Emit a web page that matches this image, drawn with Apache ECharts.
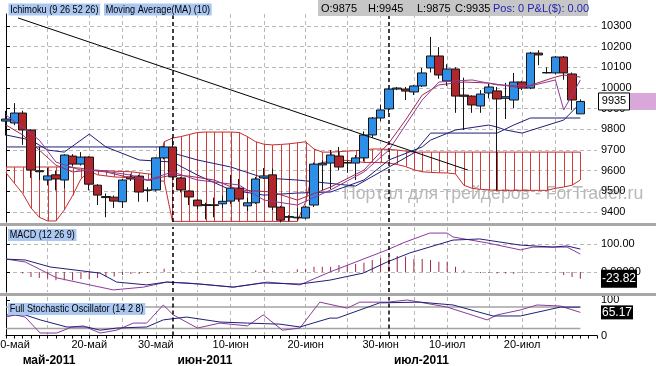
<!DOCTYPE html>
<html><head><meta charset="utf-8">
<script src="https://cdn.jsdelivr.net/npm/echarts@6/dist/echarts.min.js"></script>
<style>html,body{margin:0;padding:0;background:#fff}#c{width:656px;height:366px}</style>
</head><body><div id="c"></div>
<script>
const FONT = 'Arial, "Liberation Sans", sans-serif';

// ---- categories (daily bars) ----
const dates = ['09.05','10.05','11.05','12.05','13.05','15.05','16.05','17.05','18.05','19.05','20.05','22.05','23.05','24.05','25.05','26.05','27.05','29.05','30.05','31.05',
'01.06','02.06','03.06','05.06','06.06','07.06','08.06','09.06','10.06','12.06','13.06','14.06','15.06','16.06','17.06','19.06','20.06','21.06','22.06','23.06','24.06','26.06','27.06','28.06','29.06','30.06',
'01.07','03.07','04.07','05.07','06.07','07.07','08.07','10.07','11.07','12.07','13.07','14.07','15.07','17.07','18.07','19.07','20.07','21.07','22.07','24.07','25.07','26.07','27.07','28.07'];
const padCats = ['', ''];
const dayTicks = [[0,'10-май'],[10,'20-май'],[18,'30-май'],[27,'10-июн'],[36,'20-июн'],[45,'30-июн'],[53,'10-июл'],[62,'20-июл']];
const monthTicks = [[2,'май-2011'],[20,'июн-2011'],[46,'июл-2011']];
const gridDays = [5,10,14,18,23,27,31,36,41,45,49,53,58,62,66];
const monthStarts = [20,46];
const priceTicks = [9400,9500,9600,9700,9800,9900,10000,10100,10200,10300];
const macdTicks = [0,100];
const stochTicks = [0,100];
const stochLevels = [80,20];

// ---- OHLC ----
const opens = [9840,9831,9879,9797,9600,9555,9580,9555,9671,9632, 9666,9530,9475,9472,9450,9570,9574,9505,9507,9662, 9715,9565,9502,9458,9432,9435,9440,9453,9516,9430, 9445,9565,9580,9424,9375,9372,9371,9434,9628,9637, 9671,9640,9637,9662,9773,9855,9899,9995,9995,9981, 10010,10097,10155,10034,10092,9966,9961,9913,9976,9986, 9950,9942,10029,10000,10169,10073,10073,10150,10068,9875];
const highs = [9890,9927,9890,9800,9715,9615,9600,9680,9680,9690, 9670,9535,9490,9480,9560,9585,9580,9520,9665,9720, 9760,9570,9505,9465,9445,9470,9480,9580,9560,9470, 9570,9613,9610,9430,9385,9420,9430,9640,9650,9700, 9715,9650,9676,9790,9860,9920,10000,10005,10005,10015, 10097,10247,10198,10115,10100,10050,9965,9990,10020,10005, 10025,10073,10035,10175,10183,10100,10155,10155,10075,9945];
const lows = [9770,9820,9725,9565,9555,9530,9505,9515,9620,9625, 9505,9434,9375,9420,9420,9550,9450,9450,9500,9655, 9565,9495,9434,9415,9365,9375,9420,9440,9450,9405, 9440,9560,9410,9350,9355,9360,9365,9425,9505,9510, 9603,9590,9555,9645,9760,9840,9880,9990,9942,9966, 10005,10075,10045,10010,9880,9797,9880,9880,9950,9505, 9850,9903,9990,9995,10110,10070,10065,10040,9893,9875];
const closes = [9850,9879,9797,9603,9595,9575,9560,9676,9632,9666, 9535,9482,9470,9453,9555,9560,9497,9507,9662,9715, 9570,9507,9473,9430,9436,9432,9452,9516,9463,9445, 9560,9575,9424,9361,9378,9375,9424,9632,9636,9676, 9618,9637,9662,9773,9855,9894,9995,10000,9985,10010, 10073,10155,10063,10092,9961,9960,9918,9971,10005,9947, 9958,10029,10000,10169,10160,10075,10150,10073,9942,9935];

// ---- Ichimoku cloud (per bar) ----
const spanA = [9618,9618,9618,9618,9618,9618,9618,9618,9615,9612, 9605,9600,9600,9598,9596,9595,9590,9585,9580,9740, 9758,9765,9775,9785,9787,9787,9787,9787,9785,9765, 9740,9728,9725,9727,9730,9735,9740,9705,9690,9690, 9692,9695,9697,9700,9705,9705,9703,9700,9695,9690, 9690,9690,9690,9690,9690,9690,9690,9690,9690,9690, 9690,9690,9690,9690,9690,9690,9690,9690,9690,9690];
const spanB = [9590,9540,9490,9420,9375,9357,9357,9410,9480,9560, 9600,9580,9575,9570,9568,9565,9560,9555,9550,9550, 9355,9355,9355,9355,9355,9355,9355,9355,9355,9355, 9355,9355,9355,9355,9355,9355,9450,9620,9640,9645, 9650,9650,9645,9640,9640,9640,9637,9630,9620,9605, 9595,9592,9590,9589,9585,9530,9515,9510,9507,9505, 9505,9505,9505,9505,9505,9505,9515,9521,9530,9555];

// ---- Ichimoku / MA lines: [bar position, price] ----
const kijun = [[0,9715],[19,9715],[20,9686],[23,9652],[27,9618],[31,9565],[35,9555],[42,9526],[49,9686],[51,9782],[59,9782],[61,9821],[63,9855],[69,9855]];
const tenkan = [[0,9773],[3,9748],[5,9700],[7,9690],[10,9777],[12,9715],[16,9652],[20,9642],[23,9579],[27,9507],[31,9482],[35,9492],[39,9497],[43,9555],[46,9652],[50,9715],[51,9748],[54,9797],[58,9821],[59,9811],[60,9797],[62,9782],[67,9845],[69,9927]];
const maLine = [[0,9821],[2,9773],[4,9700],[6,9627],[8,9594],[10,9603],[12,9594],[15,9565],[17,9555],[20,9579],[22,9574],[25,9555],[28,9507],[32,9497],[35,9458],[39,9521],[43,9603],[46,9734],[48,9845],[50,9966],[52,10015],[55,10029],[58,10024],[62,10000],[66,10053],[67,10063],[69,10053]];
const tenkan2 = [[0,9869],[2,9811],[4,9748],[6,9642],[9,9603],[11,9603],[15,9579],[17,9555],[20,9594],[23,9555],[28,9531],[31,9458],[35,9434],[39,9507],[43,9594],[46,9700],[48,9821],[50,9942],[52,10029],[56,10039],[59,10015],[63,10010],[66,10039],[67,9894],[69,10039]];
const trendLine = [[1.44,10339],[55.5,9603]];

// ---- MACD ----
const macdLine = [[0,46],[2.3,36],[6.1,-21],[12.9,-64],[16.5,-54],[19.3,-36],[21.7,-39],[27.3,-54],[31.4,-36],[35.3,-46],[38.9,0],[41.7,32],[45.8,79],[47.7,104],[50.9,139],[53,139],[53.7,125],[57.8,104],[61.8,79],[63.3,89],[67.4,89],[69,64]];
const macdSignal = [[0,46],[2.3,43],[5.3,18],[11.3,-4],[13.3,-36],[16.9,-46],[19.3,-36],[23.3,-43],[27.3,-54],[30.9,-39],[35.3,-43],[38.9,-29],[42.9,-4],[45.8,36],[48.5,68],[53.7,114],[56.9,118],[61.8,96],[65.7,89],[67.4,93],[69,82]];
const macdHist = [0,0,-5,-18,-21,-23,-29,-29,-29,-25, -25,-21,-18,-16,-11,-7,-7,-4,0,12, 0,2,0,-2,0,0,0,0,2,0, 5,8,3,0,2,10,12,19,19,19, 25,25,29,33,43,50,54,57,55,46, 46,43,37,37,19,5,0,-4,-4,-5, -5,-6,-2,-2,-1,-1,-2,-11,-18,-23.82];

// ---- Stochastic ----
const stochK = [[0,52],[1.1,58],[2.3,52],[4.1,7],[6.1,7],[7.9,24],[9.3,27],[11.3,7],[13.3,15],[15.3,35],[16.9,35],[18.9,86],[20.1,58],[23,21],[25.7,35],[29,27],[30.9,58],[33.2,15],[35.3,21],[37.7,94],[41,77],[42.5,94],[45.8,94],[48.2,100],[49.7,94],[53,80],[57.8,44],[59,58],[61.8,72],[63.8,86],[66.6,83],[69,65.17]];
const stochD = [[0,58],[2.3,58],[4.1,44],[7.3,24],[9.7,24],[11.3,15],[13.3,21],[16.9,24],[18.9,44],[21.7,52],[25.7,38],[29,35],[32.9,32],[35.3,24],[38.9,49],[39.8,49],[44.9,92],[49.7,94],[53.7,86],[58.5,55],[61.8,55],[66.6,80],[69,80]];

// ---------------------------------------------------------------
const cats = dates.concat(padCats);
const lastBar = dates.length - 1;
const gridSet = new Set(gridDays);
const dayMap = new Map(dayTicks);
const monMap = new Map(monthTicks);
const candleData = opens.map((o, i) => [o, closes[i], lows[i], highs[i]]);
const hatchData = spanA.map((a, i) => [i, a, spanB[i]]);

const GRIDC = '#b9b9b9';
function catAxis(gi, extra) {
  return Object.assign({
    type: 'category', gridIndex: gi, data: cats, boundaryGap: false,
    axisLine: {show: false}, axisTick: {show: false}, axisLabel: {show: false},
    splitLine: {show: true, interval: (i) => gridSet.has(i), lineStyle: {color: GRIDC, type: [4, 3], width: 1}}
  }, extra || {});
}
function valAxis(gi) {
  return {type: 'value', gridIndex: gi, min: 0, max: cats.length - 1, show: false, splitLine: {show: false}};
}
const monthLineStyle = {color: '#000', type: [4, 3], width: 1.5};
function monthMarks() {
  return {silent: true, symbol: 'none', label: {show: false}, animation: false,
    data: monthStarts.map(m => ({xAxis: m, lineStyle: monthLineStyle}))};
}
function lineS(xi, yi, data, color, z, w) {
  return {type: 'line', xAxisIndex: xi, yAxisIndex: yi, data: data, showSymbol: false, symbol: 'none',
    lineStyle: {color: color, width: w || 1}, z: z || 4, silent: true};
}
const NAVY = '#1f1f78', MAROON = '#a3294f', PURPLE = '#8a3b98';

const chart = echarts.init(document.getElementById('c'), null, {renderer: 'canvas', width: 656, height: 366});
const dayLabelFmt = (v, i) => dayMap.has(i) ? (i === dayTicks[0][0] ? '{f|' : '{d|') + dayMap.get(i) + '}' : '';
const option = {
  animation: false,
  backgroundColor: '#ffffff',
  textStyle: {fontFamily: FONT},
  grid: [
    {left: 6, right: 59, top: 14, height: 208, outerBoundsMode: 'none', containLabel: false},
    {left: 6, right: 59, top: 227, height: 65, outerBoundsMode: 'none', containLabel: false},
    {left: 6, right: 59, top: 297, height: 38.5, outerBoundsMode: 'none', containLabel: false}
  ],
  xAxis: [
    catAxis(0), valAxis(0),
    catAxis(1), valAxis(1),
    catAxis(2, {
      axisLine: {show: true, lineStyle: {color: '#000', width: 1}},
      axisTick: {show: true, interval: 0, length: 3, lineStyle: {color: '#000'}},
      axisLabel: {show: true, interval: (i) => dayMap.has(i), formatter: dayLabelFmt, margin: 4,
        rich: {d: {fontSize: 11, color: '#000', fontFamily: FONT},
               f: {fontSize: 11, color: '#000', fontFamily: FONT, padding: [0, 0, 0, 12]}}}
    }),
    valAxis(2),
    {type: 'category', gridIndex: 2, data: cats, boundaryGap: false, position: 'bottom', offset: 15,
      axisLine: {show: false}, axisTick: {show: false}, splitLine: {show: false},
      axisLabel: {show: true, interval: (i) => monMap.has(i), align: 'left', margin: 4,
        formatter: (v, i) => monMap.has(i) ? (i === monthTicks[0][0] ? '{a|' : '{b|') + monMap.get(i) + '}' : '',
        rich: {a: {fontSize: 12, fontWeight: 'bold', color: '#000', fontFamily: FONT},
               b: {fontSize: 12, fontWeight: 'bold', color: '#000', fontFamily: FONT, padding: [0, 0, 0, 5]}}}}
  ],
  yAxis: [
    {type: 'value', gridIndex: 0, position: 'right', min: 9352, max: 10358,
      axisLine: {show: true, lineStyle: {color: '#000'}},
      axisTick: {show: true, length: 4, lineStyle: {color: '#000'}, customValues: priceTicks},
      axisLabel: {customValues: priceTicks, formatter: v => String(v), color: '#000', fontSize: 11, fontFamily: FONT, margin: 4},
      splitLine: {show: true, lineStyle: {color: GRIDC, type: [4, 3], width: 1}}},
    {type: 'value', gridIndex: 1, position: 'right', min: -71.4, max: 160.7,
      axisLine: {show: true, lineStyle: {color: '#000'}},
      axisTick: {show: true, length: 4, lineStyle: {color: '#000'}, customValues: macdTicks},
      axisLabel: {customValues: macdTicks, formatter: v => (v === 100 ? '100.00' : '0.00000'), color: '#000', fontSize: 11, fontFamily: FONT, margin: 4},
      splitLine: {show: true, lineStyle: {color: GRIDC, type: [4, 3], width: 1}}},
    {type: 'value', gridIndex: 2, position: 'right', min: 0, max: 108.5,
      axisLine: {show: true, lineStyle: {color: '#000'}},
      axisTick: {show: true, length: 4, lineStyle: {color: '#000'}, customValues: stochTicks},
      axisLabel: {customValues: stochTicks, formatter: v => String(v), color: '#000', fontSize: 11, fontFamily: FONT, margin: 4},
      splitLine: {show: false}}
  ],
  series: [
    {type: 'custom', xAxisIndex: 0, yAxisIndex: 0, z: 1, silent: true, data: hatchData, encode: {x: 0, y: [1, 2]},
      renderItem: (params, api) => {
        const p1 = api.coord([api.value(0), api.value(1)]);
        const p2 = api.coord([api.value(0), api.value(2)]);
        const x = Math.round(p1[0]) + 0.5;
        return {type: 'line', shape: {x1: x, y1: p1[1], x2: x, y2: p2[1]}, style: {stroke: '#d03c3c', lineWidth: 1}};
      }},
    lineS(0, 0, spanA, '#c52c2c', 2),
    lineS(0, 0, spanB, '#c52c2c', 2),
    lineS(1, 0, kijun, NAVY, 3),
    lineS(1, 0, tenkan, NAVY, 3),
    {type: 'candlestick', xAxisIndex: 0, yAxisIndex: 0, data: candleData, barWidth: 9, clip: false, z: 5, silent: true,
      itemStyle: {color: '#2d8fe8', color0: '#b1262a', borderColor: '#151515', borderColor0: '#151515', borderWidth: 1}},
    lineS(1, 0, maLine, MAROON, 6),
    lineS(1, 0, tenkan2, PURPLE, 6),
    Object.assign(lineS(1, 0, trendLine, '#000', 8), {markLine: monthMarks()}),
    {type: 'bar', xAxisIndex: 2, yAxisIndex: 1, data: macdHist, barWidth: 1, itemStyle: {color: '#9c2c46'}, silent: true, z: 3,
      markLine: monthMarks()},
    lineS(3, 1, macdLine, PURPLE, 4),
    lineS(3, 1, macdSignal, NAVY, 4),
    lineS(5, 2, [[0, stochLevels[0]], [lastBar, stochLevels[0]]], '#a3a3a3', 2, 1.5),
    lineS(5, 2, [[0, stochLevels[1]], [lastBar, stochLevels[1]]], '#a3a3a3', 2, 1.5),
    Object.assign(lineS(5, 2, stochK, PURPLE, 4), {markLine: monthMarks()}),
    lineS(5, 2, stochD, NAVY, 4)
  ]
};
chart.setOption(option);

// value tags and decorations
const yClose = chart.convertToPixel({yAxisIndex: 0}, closes[lastBar]);
const histLast = macdHist[macdHist.length - 1];
const yHist = chart.convertToPixel({yAxisIndex: 1}, histLast);
const stochLast = stochK[stochK.length - 1][1];
const yStoch = chart.convertToPixel({yAxisIndex: 2}, stochLast);
const T = (text, x, y, extra, sx) => ({type: 'text', z: 200, x: x, y: y, scaleX: sx || 1,
  style: Object.assign({text: text, x: 0, y: 0, font: '11px ' + FONT, fill: '#000', verticalAlign: 'middle'}, extra || {})});
const legendBg = '#abc8f2';
const LG = {font: '11px ' + FONT, backgroundColor: legendBg, padding: [1, 2, 0, 2]};
chart.setOption({graphic: [
  {type: 'rect', z: 150, shape: {x: 0, y: 223, width: 656, height: 3}, style: {fill: '#a8a8a8'}},
  {type: 'rect', z: 150, shape: {x: 0, y: 293, width: 656, height: 3}, style: {fill: '#a8a8a8'}},
  {type: 'text', z: 0, style: {text: 'Портал для трейдеров - ForTrader.ru', x: 343, y: 194, font: '17.7px ' + FONT, fill: '#b8b8b8', verticalAlign: 'middle'}},
  {type: 'rect', z: 150, shape: {x: 318, y: 0, width: 270, height: 16}, style: {fill: '#c6c6c6'}},
  T('O:' + opens[lastBar], 321, 8.5),
  T('H:' + highs[lastBar], 368, 8.5),
  T('L:' + lows[lastBar], 417, 8.5),
  T('C:' + closes[lastBar], 455, 8.5),
  T('Pos: 0 P&L($): 0.00', 493, 8.5, {fill: '#2323b4'}),
  T('Ichimoku (9 26 52 26)', 8.5, 9.5, LG, 0.83),
  T('Moving Average(MA) (10)', 104, 9.5, LG, 0.83),
  T('MACD (12 26 9)', 8, 235, LG, 0.82),
  T('Full Stochastic Oscillator (14 2 8)', 8, 309, LG, 0.83),
  {type: 'rect', z: 190, shape: {x: 630, y: yClose - 8.5, width: 26, height: 17}, style: {fill: '#d9a7d9'}},
  {type: 'rect', z: 190, shape: {x: 598.5, y: yClose - 8.5, width: 31, height: 17}, style: {fill: '#fff', stroke: '#000', lineWidth: 1}},
  T(String(closes[lastBar]), 614, yClose, {align: 'center'}),
  {type: 'rect', z: 190, shape: {x: 601, y: yHist - 9, width: 36, height: 18}, style: {fill: '#000'}},
  T(histLast.toFixed(2), 619, yHist, {align: 'center', font: '12px ' + FONT, fill: '#fff'}),
  {type: 'rect', z: 190, shape: {x: 601, y: yStoch - 7, width: 32, height: 14}, style: {fill: '#000'}},
  T(stochLast.toFixed(2), 617, yStoch, {align: 'center', font: '12px ' + FONT, fill: '#fff'})
]});
</script></body></html>
